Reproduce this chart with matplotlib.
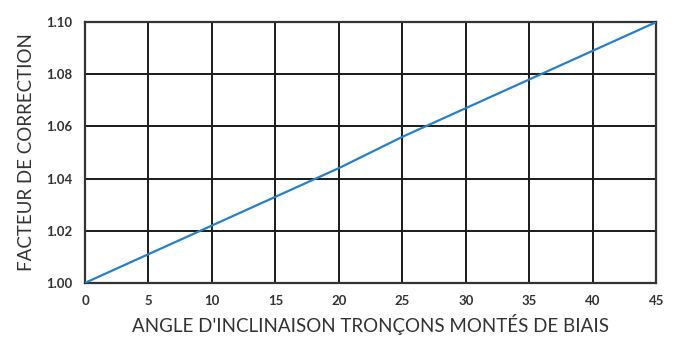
import matplotlib.pyplot as plt

# Data
angles = [0, 5, 10, 15, 20, 25, 30, 35, 40, 45]
factors = [1.000, 1.011, 1.022, 1.033, 1.044, 1.056, 1.067, 1.078, 1.089, 1.100]
x_ticks = [0, 5, 10, 15, 20, 25, 30, 35, 40, 45]
y_ticks = [1.00, 1.02, 1.04, 1.06, 1.08, 1.10]

plt.rcParams['font.family'] = ['Lato', 'DejaVu Sans']

fig = plt.figure(figsize=(6.8, 3.4), dpi=100)
ax = fig.add_axes([0.125, 0.168, 0.84, 0.767])

ax.plot(angles, factors, color='#2a7fc4', linewidth=1.6, zorder=3)

ax.set_xlim(0, 45)
ax.set_ylim(1.00, 1.10)
ax.set_xticks(x_ticks)
ax.set_yticks(y_ticks)
ax.set_yticklabels(['%.2f' % v for v in y_ticks])
ax.grid(True, color='#1a1a1a', linewidth=1.4)
ax.set_axisbelow(True)
ax.tick_params(length=0, pad=9, labelsize=9.5, colors='#333333')
for lab in ax.get_xticklabels() + ax.get_yticklabels():
    lab.set_fontweight('bold')
for s in ax.spines.values():
    s.set_color('#333333')
    s.set_linewidth(1.6)

ax.set_xlabel("ANGLE D'INCLINAISON TRONÇONS MONTÉS DE BIAIS", fontsize=13.5, color='#333333', labelpad=5)
ax.set_ylabel('FACTEUR DE CORRECTION', fontsize=13.5, color='#333333', labelpad=8)

fig.savefig('out.png', dpi=100)
